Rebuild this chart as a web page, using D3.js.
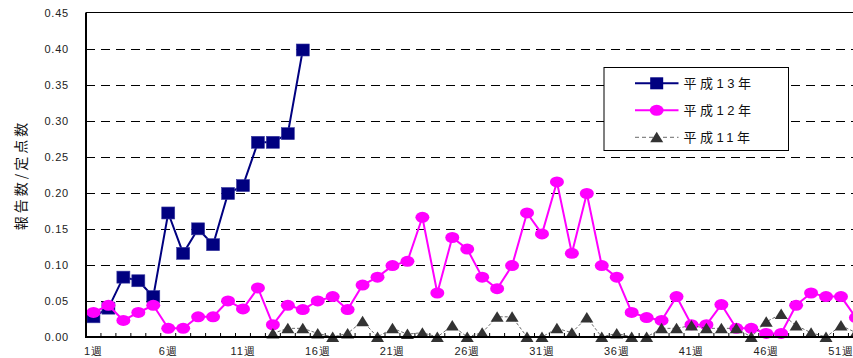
<!DOCTYPE html>
<html>
<head>
<meta charset="utf-8">
<script src="https://cdn.jsdelivr.net/npm/d3@7"></script>
<style>
  html, body { margin: 0; padding: 0; background: #fff; }
  svg { display: block; font-family: "Liberation Sans", Arial, "Noto Sans CJK JP", sans-serif; }
</style>
</head>
<body>
<div id="chart"></div>
<script>
// Weekly reports per sentinel site, three seasons
const weeks = [1,2,3,4,5,6,7,8,9,10,11,12,13,14,15,16,17,18,19,20,21,22,23,24,25,26,
               27,28,29,30,31,32,33,34,35,36,37,38,39,40,41,42,43,44,45,46,47,48,49,50,51,52];
const labelWeeks = [1,6,11,16,21,26,31,36,41,46,51];
const yTicks = [0,0.05,0.10,0.15,0.20,0.25,0.30,0.35,0.40,0.45];

const seriesNames = ["平成13年", "平成12年", "平成11年"];

const h13 = [0.028,0.040,0.083,0.078,0.056,0.172,0.116,0.150,0.128,0.199,0.210,0.270,0.270,0.282,0.398];

const h12 = [0.034,0.044,0.023,0.034,0.044,0.012,0.012,0.028,0.028,0.050,0.039,0.068,0.017,0.044,0.038,0.050,
             0.056,0.038,0.072,0.083,0.099,0.105,0.166,0.061,0.138,0.122,0.083,0.067,0.099,0.172,0.143,0.215,
             0.116,0.199,0.099,0.083,0.034,0.027,0.023,0.056,0.017,0.017,0.045,0.012,0.012,0.005,0.005,0.044,
             0.061,0.056,0.056,0.027];

const h11 = [null,null,null,null,null,null,null,null,null,null,null,null,
             0.005,0.012,0.012,0.005,0.000,0.005,0.022,0.000,0.012,0.004,0.006,0.000,0.016,0.000,0.006,0.028,
             0.028,0.000,0.000,0.012,0.006,0.027,0.000,0.005,0.000,0.000,0.012,0.012,0.016,0.012,0.012,0.012,
             0.000,0.021,0.032,0.016,0.006,0.000,0.016,0.006];

const W = 853, H = 358;
const plotLeft = 86, plotTop = 12.5, plotBottom = 337, band = 14.95;

const svg = d3.select("#chart").append("svg")
  .attr("width", W).attr("height", H);

const x = d3.scaleBand().domain(weeks)
  .range([plotLeft, plotLeft + band * weeks.length]).padding(0);
const y = d3.scaleLinear().domain([0, 0.45]).range([plotBottom, plotTop]);
const cx = w => x(w) + x.bandwidth() / 2;

// horizontal dashed gridlines
svg.append("g").selectAll("line")
  .data(yTicks.filter(v => v > 0 && v < 0.45))
  .join("line")
  .attr("x1", plotLeft).attr("x2", W)
  .attr("y1", d => Math.round(y(d)) + 0.5).attr("y2", d => Math.round(y(d)) + 0.5)
  .attr("stroke", "#000").attr("stroke-width", 1)
  .attr("stroke-dasharray", "9,6");

// top border of the plot area
svg.append("line")
  .attr("x1", plotLeft).attr("x2", W)
  .attr("y1", y(0.45)).attr("y2", y(0.45))
  .attr("stroke", "#000").attr("stroke-width", 1);

// y axis labels
const yAxis = svg.append("g")
  .attr("transform", `translate(${plotLeft},0)`)
  .call(d3.axisLeft(y).tickValues(yTicks).tickSize(0).tickPadding(17)
        .tickFormat(d3.format(".2f")));
yAxis.select(".domain").remove();
yAxis.selectAll("text")
  .attr("font-size", 11).attr("fill", "#222")
  .attr("font-family", "'Liberation Sans', Arial, sans-serif")
  .style("letter-spacing", "0.8px");

// y axis title
svg.append("text")
  .attr("transform", "translate(26,175) rotate(-90)")
  .attr("text-anchor", "middle")
  .attr("font-size", 14)
  .attr("font-family", "'Noto Sans CJK JP', sans-serif")
  .style("letter-spacing", "3px")
  .attr("fill", "#111")
  .text("報告数/定点数");

// x axis labels
const xAxis = svg.append("g")
  .attr("transform", `translate(0,${plotBottom})`)
  .call(d3.axisBottom(x).tickValues(labelWeeks).tickSize(0).tickPadding(10)
        .tickFormat(d => d + "週"));
xAxis.select(".domain").remove();
xAxis.selectAll("text")
  .attr("font-size", 11).attr("fill", "#222")
  .style("letter-spacing", "0.8px");

// category tick marks (between weeks, pointing inward)
svg.append("g").selectAll("line")
  .data(weeks)
  .join("line")
  .attr("x1", d => x(d) + x.bandwidth()).attr("x2", d => x(d) + x.bandwidth())
  .attr("y1", plotBottom).attr("y2", plotBottom - 4)
  .attr("stroke", "#000").attr("stroke-width", 1);

// series lines and markers
const triPath = "M0,-5.5L6.5,5L-6.5,5Z";

function drawLine(vals, color, width, dash) {
  const pts = vals.map((v, i) => ({ w: weeks[i], v })).filter(d => d.v !== null);
  const line = d3.line().x(d => cx(d.w)).y(d => y(d.v));
  svg.append("path").datum(pts)
    .attr("d", line).attr("fill", "none")
    .attr("stroke", color).attr("stroke-width", width)
    .attr("stroke-dasharray", dash || null);
  return pts;
}

const p13 = drawLine(h13, "#000080", 2);
svg.append("g").selectAll("rect").data(p13).join("rect")
  .attr("x", d => cx(d.w) - 6.5).attr("y", d => y(d.v) - 6)
  .attr("width", 13).attr("height", 12)
  .attr("fill", "#000080").attr("stroke", "#3a3aa0").attr("stroke-width", 0.6);

const p12 = drawLine(h12, "#ff00ff", 2);
svg.append("g").selectAll("ellipse").data(p12).join("ellipse")
  .attr("cx", d => cx(d.w)).attr("cy", d => y(d.v))
  .attr("rx", 7).attr("ry", 5.5)
  .attr("fill", "#ff00ff");

const p11 = drawLine(h11, "#444", 0.8, "3,2");
svg.append("g").selectAll("path").data(p11).join("path")
  .attr("transform", d => `translate(${cx(d.w)},${y(d.v)})`)
  .attr("d", triPath)
  .attr("fill", "#333");

// axis lines
svg.append("line")
  .attr("x1", plotLeft).attr("x2", plotLeft).attr("y1", plotTop).attr("y2", plotBottom + 1)
  .attr("stroke", "#000").attr("stroke-width", 2);
svg.append("line")
  .attr("x1", plotLeft - 1).attr("x2", W).attr("y1", plotBottom).attr("y2", plotBottom)
  .attr("stroke", "#000").attr("stroke-width", 2);

// legend
const lg = svg.append("g").attr("transform", "translate(604,67.5)");
lg.append("rect").attr("width", 184.5).attr("height", 83)
  .attr("fill", "#fff").attr("stroke", "#000").attr("stroke-width", 1);
const rows = [
  { name: seriesNames[0], color: "#000080", w: 2, dash: null, mk: "rect" },
  { name: seriesNames[1], color: "#ff00ff", w: 2, dash: null, mk: "ellipse" },
  { name: seriesNames[2], color: "#444", w: 0.8, dash: "4,3", mk: "tri" }
];
rows.forEach((r, i) => {
  const g = lg.append("g").attr("transform", `translate(0,${15.8 + i * 27})`);
  g.append("line").attr("x1", 31).attr("x2", 74.5)
    .attr("stroke", r.color).attr("stroke-width", r.w)
    .attr("stroke-dasharray", r.dash);
  if (r.mk === "rect") {
    g.append("rect").attr("x", 46.2).attr("y", -6).attr("width", 13).attr("height", 12)
      .attr("fill", "#000080");
  } else if (r.mk === "ellipse") {
    g.append("ellipse").attr("cx", 52.7).attr("cy", 0).attr("rx", 7).attr("ry", 5.5)
      .attr("fill", "#ff00ff");
  } else {
    g.append("path").attr("transform", "translate(52.7,0)").attr("d", triPath)
      .attr("fill", "#333");
  }
  g.append("text").attr("x", 79.5).attr("y", 0).attr("dy", "0.36em")
    .attr("font-size", 13)
    .attr("font-family", "'Liberation Sans', Arial, 'Noto Sans CJK JP', sans-serif")
    .style("letter-spacing", "3.5px")
    .attr("fill", "#111")
    .text(r.name);
});
</script>
</body>
</html>
